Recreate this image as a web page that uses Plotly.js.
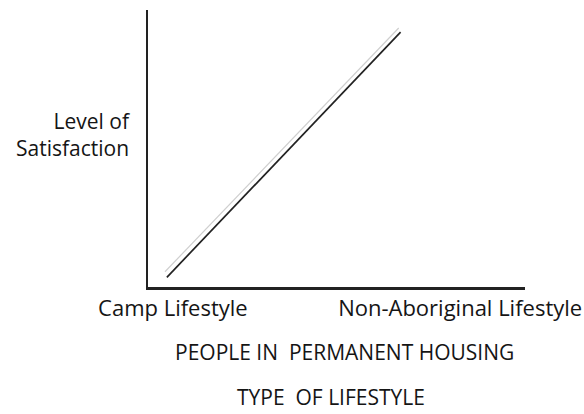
<!DOCTYPE html>
<html>
<head>
<meta charset="utf-8">
<script src="https://cdn.plot.ly/plotly-3.0.1.min.js"></script>
<style>html,body{margin:0;padding:0;background:#fff;}#chart{width:584px;height:414px;}</style>
</head>
<body>
<div id="chart"></div>
<script>
// Data (arbitrary 0-10 scale on both axes)
const lineX = [0.5, 6.7];
const lineY = [0.35, 9.2];
const scanX = [0.45, 6.65];
const scanY = [0.55, 9.35];
const tickVals = [0.66, 8.28];
const tickLabels = ["Camp Lifestyle", "Non-Aboriginal Lifestyle"];
const yTitle = "Level of<br>Satisfaction";
const caption = "PEOPLE IN  PERMANENT HOUSING";
const xTitle = "TYPE  OF LIFESTYLE";

const font = "'Open Sans', 'DejaVu Sans', sans-serif";
const ink = "#151515";

const traces = [
  {x: scanX, y: scanY, mode: "lines", line: {color: "#cfcfcf", width: 1.2}, hoverinfo: "skip", showlegend: false},
  {x: lineX, y: lineY, mode: "lines", line: {color: "#222", width: 1.7}, showlegend: false}
];

const layout = {
  width: 584, height: 414,
  margin: {l: 148, r: 59, t: 10, b: 127},
  paper_bgcolor: "#fff", plot_bgcolor: "#fff",
  font: {family: font, color: ink, size: 16},
  showlegend: false,
  xaxis: {
    range: [0, 10], showgrid: false, zeroline: false,
    showline: true, linecolor: "#222", linewidth: 2.5,
    ticks: "", tickvals: tickVals, ticktext: tickLabels,
    tickfont: {family: font, size: 22, color: ink}, fixedrange: true
  },
  yaxis: {
    range: [0, 10], showgrid: false, zeroline: false,
    showline: true, linecolor: "#222", linewidth: 2.5,
    showticklabels: false, ticks: "", fixedrange: true
  },
  annotations: [
    {text: yTitle, xref: "paper", yref: "paper", x: (133 - 148) / 377, y: (287 - 134) / 277,
     xanchor: "right", yanchor: "middle", align: "right", showarrow: false,
     font: {family: font, size: 21, color: ink}},
    {text: caption, xref: "paper", yref: "paper", x: (344 - 148) / 377, y: -(352 - 287) / 277,
     xanchor: "center", yanchor: "middle", showarrow: false,
     font: {family: font, size: 21, color: ink}},
    {text: xTitle, xref: "paper", yref: "paper", x: (331 - 148) / 377, y: -(397 - 287) / 277,
     xanchor: "center", yanchor: "middle", showarrow: false,
     font: {family: font, size: 21, color: ink}}
  ]
};

Plotly.newPlot("chart", traces, layout, {displayModeBar: false, staticPlot: true});
</script>
</body>
</html>
